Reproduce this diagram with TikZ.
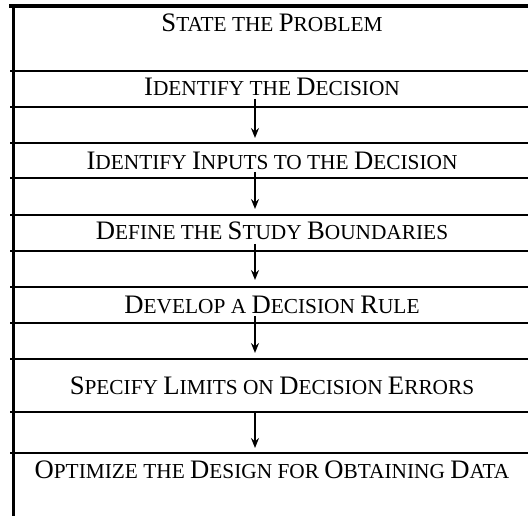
\documentclass[tikz,border=0pt]{standalone}
\usepackage{fontspec}
\setmainfont{Liberation Serif}
\usetikzlibrary{arrows.meta}
\newcommand\Bg[1]{{\fontsize{20}{22}\selectfont #1}}
\tikzset{
  steplabel/.style={anchor=base, inner sep=0pt, font=\fontsize{16}{18}\selectfont},
  rule/.style={line width=1.5pt},
  thickrule/.style={line width=2.6pt},
  flow/.style={line width=1.3pt, -{Stealth[length=7.5pt,width=6pt,inset=2.5pt]}}
}
\begin{document}
\begin{tikzpicture}[x=0.75pt,y=-0.75pt]
\useasboundingbox (0,0) rectangle (528,516);
% frame
\coordinate (tl) at (9,6.2);
\coordinate (tr) at (530,6.2);
\coordinate (vt) at (13.7,5);
\coordinate (vb) at (13.7,518);
\draw[thickrule] (tl) -- (tr);
\draw[line width=2.6pt] (vt) -- (vb);
% separators
\foreach \y in {70.7,107.3,142.7,178,215,251,286.7,322.7,359,412,452.7}{
  \draw[rule] (10,\y) -- (530,\y);
}
% texts
\node[steplabel] (s1) at (272,31.7) {\Bg{S}TATE THE \Bg{P}ROBLEM};
\node[steplabel] (s2) at (272,96) {\Bg{I}DENTIFY THE \Bg{D}ECISION};
\node[steplabel] (s3) at (272,169.3) {\Bg{I}DENTIFY \Bg{I}NPUTS TO THE \Bg{D}ECISION};
\node[steplabel] (s4) at (272,240) {\Bg{D}EFINE THE \Bg{S}TUDY \Bg{B}OUNDARIES};
\node[steplabel] (s5) at (272,313.3) {\Bg{D}EVELOP A \Bg{D}ECISION \Bg{R}ULE};
\node[steplabel] (s6) at (272,394) {\Bg{S}PECIFY \Bg{L}IMITS ON \Bg{D}ECISION \Bg{E}RRORS};
\node[steplabel] (s7) at (272,478.3) {\Bg{O}PTIMIZE THE \Bg{D}ESIGN FOR \Bg{O}BTAINING \Bg{D}ATA};
% arrows
\coordinate (a1s) at (255,99);   \coordinate (a1e) at (255,138);
\coordinate (a2s) at (255,172);  \coordinate (a2e) at (255,209);
\coordinate (a3s) at (255,244);  \coordinate (a3e) at (255,280);
\coordinate (a4s) at (255,316);  \coordinate (a4e) at (255,353);
\coordinate (a5s) at (255,412);  \coordinate (a5e) at (255,448);
\draw[flow] (a1s) -- (a1e);
\draw[flow] (a2s) -- (a2e);
\draw[flow] (a3s) -- (a3e);
\draw[flow] (a4s) -- (a4e);
\draw[flow] (a5s) -- (a5e);
\end{tikzpicture}
\end{document}
